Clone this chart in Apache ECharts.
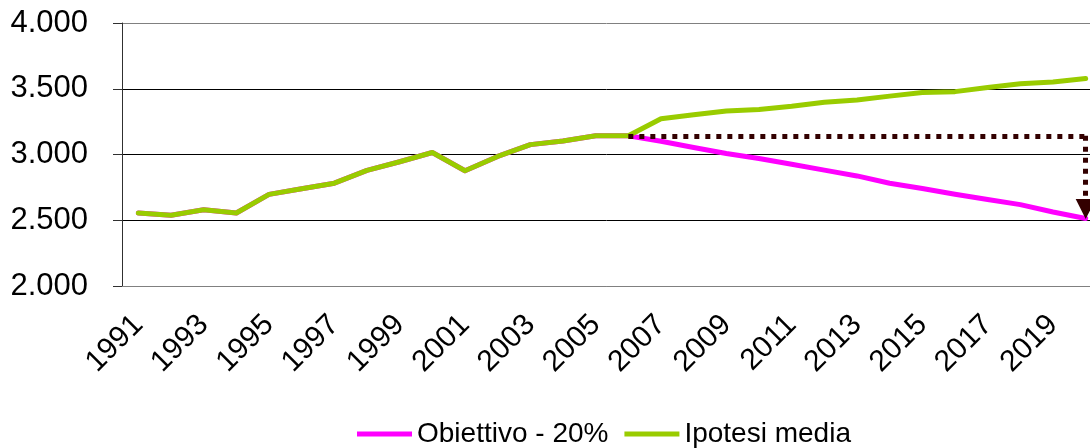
<!DOCTYPE html>
<html>
<head>
<meta charset="utf-8">
<script src="https://cdn.jsdelivr.net/npm/echarts@6/dist/echarts.min.js"></script>
<style>
	html, body { margin: 0; padding: 0; background: #fff; }
	#chart { width: 1090px; height: 448px; }
</style>
</head>
<body>
<div id="chart"></div>
<script>
var anni = ['1991','1992','1993','1994','1995','1996','1997','1998','1999','2000',
	'2001','2002','2003','2004','2005','2006','2007','2008','2009','2010',
	'2011','2012','2013','2014','2015','2016','2017','2018','2019','2020'];

var obiettivo = [2555, 2538, 2580, 2555, 2697, 2740, 2782, 2879, 2945, 3015,
	2876, 2985, 3075, 3102, 3142, 3142, 3101, 3053, 3008, 2970,
	2926, 2881, 2837, 2781, 2741, 2698, 2658, 2619, 2563, 2513];

var ipotesi = [2555, 2538, 2580, 2555, 2697, 2740, 2782, 2879, 2945, 3015,
	2876, 2985, 3075, 3102, 3142, 3142, 3272, 3302, 3330, 3342,
	3367, 3398, 3414, 3444, 3472, 3478, 3510, 3538, 3552, 3578];

// freccia tratteggiata: da 2006 a 2020, poi giu
var frecciaDa = ['2006', 3142];
var frecciaAngolo = ['2020', 3142];
var frecciaA = ['2020', 2585];

var font = 'Liberation Sans, Arial, sans-serif';

function migliaia(v) {
	return String(v).replace(/\B(?=(\d{3})+(?!\d))/g, '.');
}

var chart = echarts.init(document.getElementById('chart'));
chart.setOption({
	animation: false,
	grid: { left: 122, width: 980, top: 23, bottom: 162, outerBoundsMode: 'none' },
	legend: {
		left: 352,
		top: 415,
		icon: 'rect',
		itemWidth: 55,
		itemHeight: 5,
		itemGap: 16,
		textStyle: { fontFamily: font, fontSize: 28, color: '#000' },
		data: ['Obiettivo - 20%', 'Ipotesi media']
	},
	xAxis: {
		type: 'category',
		data: anni,
		boundaryGap: true,
		axisLine: { lineStyle: { color: '#808080', width: 1 } },
		axisTick: { interval: 0, length: 9, lineStyle: { color: '#404040' } },
		axisLabel: {
			interval: 1,
			rotate: 45,
			margin: 34,
			fontFamily: font,
			fontSize: 30,
			color: '#000'
		},
		splitLine: { show: false }
	},
	yAxis: {
		type: 'value',
		min: 2000,
		max: 4000,
		interval: 500,
		axisLine: { show: true, lineStyle: { color: '#303030', width: 1 } },
		axisTick: { show: true, length: 9, lineStyle: { color: '#303030' } },
		axisLabel: {
			margin: 34,
			fontFamily: font,
			fontSize: 31,
			color: '#000',
			formatter: migliaia
		},
		splitLine: {
			lineStyle: { color: ['#808080', '#000', '#000', '#000', '#808080'], width: 1 }
		}
	},
	series: [
		{
			name: 'Obiettivo - 20%',
			type: 'line',
			data: obiettivo,
			showSymbol: false,
			color: '#FF00FF',
			lineStyle: { width: 5, cap: 'round', join: 'round' }
		},
		{
			name: 'Ipotesi media',
			type: 'line',
			data: ipotesi,
			showSymbol: false,
			color: '#99CC00',
			lineStyle: { width: 5, cap: 'round', join: 'round' },
			markLine: {
				silent: true,
				label: { show: false },
				lineStyle: { color: '#330000', width: 5, type: [5, 6], cap: 'butt' },
				data: [
					[
						{ coord: frecciaDa, symbol: 'none' },
						{ coord: frecciaAngolo, symbol: 'none' }
					],
					[
						{ coord: frecciaAngolo, symbol: 'none' },
						{ coord: frecciaA, symbol: 'triangle', symbolSize: 20 }
					]
				]
			}
		}
	]
});
</script>
</body>
</html>
